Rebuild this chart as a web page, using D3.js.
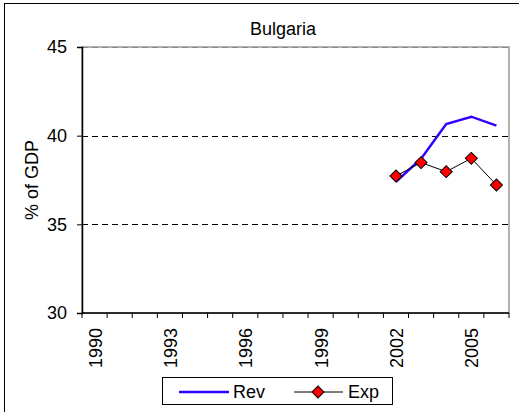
<!DOCTYPE html>
<html>
<head>
<meta charset="utf-8">
<script src="https://cdn.jsdelivr.net/npm/d3@7"></script>
<style>
  body { margin: 0; background: #fff; }
  text { font-family: "Liberation Sans", Arial, sans-serif; fill: #000; }
</style>
</head>
<body>
<svg id="chart" width="519" height="412"></svg>
<script>
var years = d3.range(1990, 2007).map(String);
var tickYears = ["1990", "1993", "1996", "1999", "2002", "2005"];
var revYears = ["2002", "2003", "2004", "2005", "2006"];
var revValues = [37.4, 38.7, 40.65, 41.07, 40.57];
var expYears = ["2002", "2003", "2004", "2005", "2006"];
var expValues = [37.73, 38.48, 37.97, 38.72, 37.22];
var yTicks = [30, 35, 40, 45];

var svg = d3.select("#chart"),
    margin = {top: 47, right: 10, bottom: 99, left: 82},
    width = +svg.attr("width") - margin.left - margin.right,
    height = +svg.attr("height") - margin.top - margin.bottom;

// outer frame
svg.append("rect")
    .attr("x", 4.5).attr("y", 3.5)
    .attr("width", 540).attr("height", 440)
    .attr("fill", "none").attr("stroke", "#000").attr("stroke-width", 1);

var g = svg.append("g").attr("transform", "translate(" + margin.left + "," + margin.top + ")");

var x = d3.scaleBand().domain(years).range([0, width]);
var y = d3.scaleLinear().domain([30, 45]).range([height, 0]);

// plot area border
g.append("rect")
    .attr("x", 0).attr("y", 0)
    .attr("width", width).attr("height", height)
    .attr("fill", "none").attr("stroke", "#999").attr("stroke-width", 1.5);

// gridlines
g.selectAll(".grid")
    .data(yTicks.filter(function(d) { return d > 30; }))
  .enter().append("line")
    .attr("x1", 0).attr("x2", width)
    .attr("y1", function(d) { return Math.round(y(d)) + 0.5; })
    .attr("y2", function(d) { return Math.round(y(d)) + 0.5; })
    .attr("stroke", function(d) { return d === 45 ? "#888" : "#000"; })
    .attr("stroke-dasharray", "6,4");

// y axis
var yAxis = g.append("g")
    .call(d3.axisLeft(y).tickValues(yTicks).tickSize(5).tickPadding(10));
yAxis.select(".domain").attr("stroke", "#000").attr("stroke-width", 1.5);
yAxis.selectAll("text").style("font-size", "18px").attr("fill", "#000");

// x axis with ticks between categories
var xg = g.append("g").attr("transform", "translate(0," + height + ")");
xg.append("line")
    .attr("x1", 0).attr("x2", width)
    .attr("stroke", "#000").attr("stroke-width", 1.5);
xg.selectAll(".tk")
    .data(years.concat(["end"]))
  .enter().append("line")
    .attr("x1", function(d, i) { return i * x.step(); })
    .attr("x2", function(d, i) { return i * x.step(); })
    .attr("y1", 0).attr("y2", 5)
    .attr("stroke", "#000");
xg.selectAll(".lbl")
    .data(tickYears)
  .enter().append("text")
    .attr("transform", function(d) {
      return "translate(" + (x(d) + x.bandwidth() / 2 + 7) + ",15) rotate(-90)";
    })
    .attr("text-anchor", "end")
    .style("font-size", "18px")
    .text(function(d) { return d; });

// title and axis label
svg.append("text")
    .attr("x", 283).attr("y", 35)
    .attr("text-anchor", "middle")
    .style("font-size", "18px")
    .text("Bulgaria");
svg.append("text")
    .attr("transform", "translate(38," + (margin.top + height / 2) + ") rotate(-90)")
    .attr("text-anchor", "middle")
    .style("font-size", "18px")
    .text("% of GDP");

// series
var cx = function(d) { return x(d) + x.bandwidth() / 2; };
var revLine = d3.line()
    .x(function(d, i) { return cx(revYears[i]); })
    .y(function(d) { return y(d); });
var expLine = d3.line()
    .x(function(d, i) { return cx(expYears[i]); })
    .y(function(d) { return y(d); });

g.append("path")
    .datum(revValues)
    .attr("fill", "none")
    .attr("stroke", "#3300ff")
    .attr("stroke-width", 2.5)
    .attr("d", revLine);
g.append("path")
    .datum(expValues)
    .attr("fill", "none")
    .attr("stroke", "#000")
    .attr("stroke-width", 1)
    .attr("d", expLine);

var marker = d3.symbol().type(d3.symbolSquare).size(72);
g.selectAll(".mk")
    .data(expValues)
  .enter().append("path")
    .attr("transform", function(d, i) { return "translate(" + cx(expYears[i]) + "," + y(d) + ") rotate(45)"; })
    .attr("d", marker)
    .attr("fill", "#ff0000")
    .attr("stroke", "#000")
    .attr("stroke-width", 1);

// legend
var lg = svg.append("g").attr("transform", "translate(162,377)");
lg.append("rect")
    .attr("x", 0.5).attr("y", 0.5).attr("width", 230).attr("height", 27)
    .attr("fill", "#fff").attr("stroke", "#000");
lg.append("line")
    .attr("x1", 17).attr("x2", 67).attr("y1", 15).attr("y2", 15)
    .attr("stroke", "#3300ff").attr("stroke-width", 2.5);
lg.append("text").attr("x", 71).attr("y", 21).style("font-size", "18px").text("Rev");
lg.append("line")
    .attr("x1", 132).attr("x2", 181).attr("y1", 15).attr("y2", 15)
    .attr("stroke", "#000");
lg.append("path")
    .attr("transform", "translate(156,15) rotate(45)")
    .attr("d", marker)
    .attr("fill", "#ff0000").attr("stroke", "#000");
lg.append("text").attr("x", 186).attr("y", 21).style("font-size", "18px").text("Exp");
</script>
</body>
</html>
